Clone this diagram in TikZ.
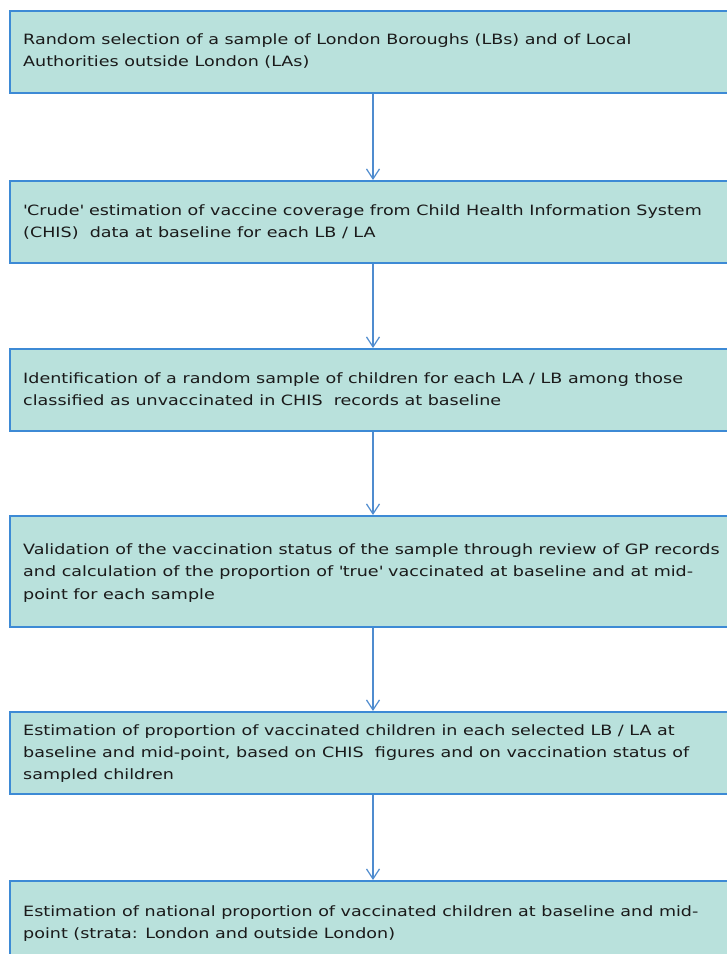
\documentclass[tikz,border=0pt]{standalone}
\usepackage{fontspec}
\setmainfont{DejaVu Sans}[FakeStretch=1.235]
\usetikzlibrary{arrows.meta}
\definecolor{boxfill}{HTML}{B9E1DC}
\definecolor{boxline}{HTML}{3D8AD5}
\definecolor{arrline}{HTML}{4F8CCF}
\definecolor{textcol}{HTML}{1A1A1A}
\newcommand{\bxt}[1]{\parbox[t]{710pt}{\fontsize{14.2}{22.4}\selectfont\raggedright #1}}
\begin{document}
\begin{tikzpicture}[x=1pt,y=-1pt,
  flowbox/.style={draw=boxline, line width=1.5pt, fill=boxfill, rectangle, anchor=north west, minimum width=760pt, inner sep=0pt},
  boxtext/.style={anchor=base west, inner sep=0pt, text=textcol},
  link/.style={draw=arrline, line width=1.2pt, -{Straight Barb[length=10pt,width=13pt]}}]
\useasboundingbox (0,0) rectangle (727,954);
\clip (0,0) rectangle (727,954);
\fill[white] (0,0) rectangle (727,954);
\node[flowbox, minimum height=82pt] (b1) at (9,10) {};
\node[flowbox, minimum height=82pt] (b2) at (9,180) {};
\node[flowbox, minimum height=82pt] (b3) at (9,348) {};
\node[flowbox, minimum height=111pt] (b4) at (9,515) {};
\node[flowbox, minimum height=82pt] (b5) at (9,711) {};
\node[flowbox, minimum height=90pt] (b6) at (9,880) {};
\coordinate (ax) at (373,0);
\draw[link] (b1.south -| ax) -- (b2.north -| ax);
\draw[link] (b2.south -| ax) -- (b3.north -| ax);
\draw[link] (b3.south -| ax) -- (b4.north -| ax);
\draw[link] (b4.south -| ax) -- (b5.north -| ax);
\draw[link] (b5.south -| ax) -- (b6.north -| ax);
\node[boxtext] (t1) at (23,44.5) {\bxt{Random selection of a sample of London Boroughs (LBs) and of Local\\Authorities outside London (LAs)}};
\node[boxtext] (t2) at (23,215) {\bxt{\textquotesingle Crude\textquotesingle\ estimation of vaccine coverage from Child Health Information System\\(CHIS)\ \ data at baseline for each LB / LA}};
\node[boxtext] (t3) at (23,383.3) {\bxt{Identification of a random sample of children for each LA / LB among those\\classified as unvaccinated in CHIS\ \ records at baseline}};
\node[boxtext] (t4) at (23,554.3) {\bxt{Validation of the vaccination status of the sample through review of GP records\\and calculation of the proportion of \textquotesingle true\textquotesingle\ vaccinated at baseline and at mid-\\point for each sample}};
\node[boxtext] (t5) at (23,735) {\bxt{Estimation of proportion of vaccinated children in each selected LB / LA at\\baseline and mid-point, based on CHIS\ \ figures and on vaccination status of\\sampled children}};
\node[boxtext] (t6) at (23,916) {\bxt{Estimation of national proportion of vaccinated children at baseline and mid-\\point (strata: London and outside London)}};
\end{tikzpicture}
\end{document}
